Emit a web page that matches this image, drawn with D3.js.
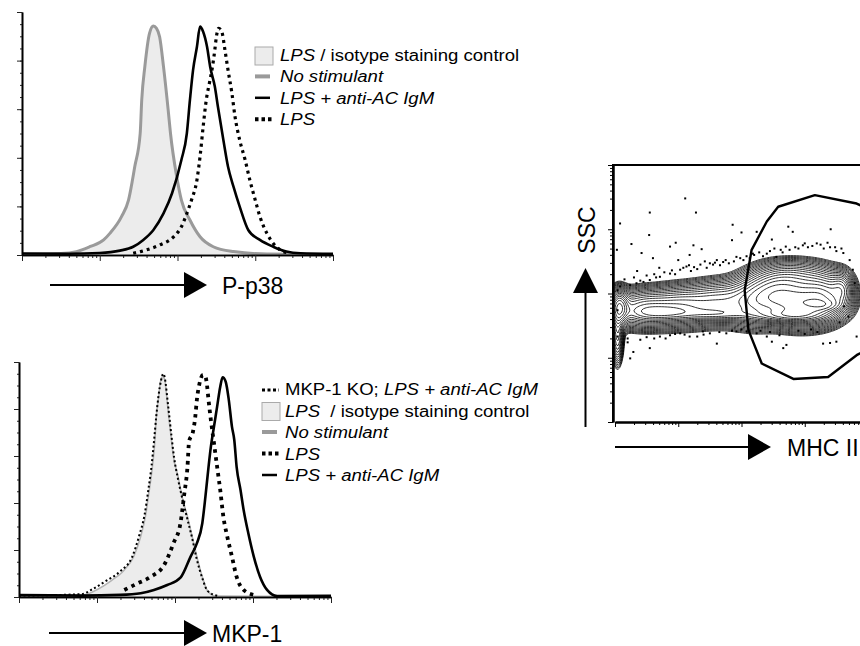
<!DOCTYPE html>
<html><head><meta charset="utf-8">
<script src="https://cdn.jsdelivr.net/npm/d3@7"></script>
<style>body{margin:0;background:#fff} svg{display:block} text{font-family:Arial,"Liberation Sans",Helvetica,sans-serif;fill:#000}</style>
</head><body><svg id="c" width="860" height="646"></svg>
<script>
// ---------- DATA (log10 fluorescence intensity, % of max) ----------
const pp38_control = [[0,0.3],[0.5,0.6],[0.70,1.4],[0.87,3.4],[1.05,6.2],[1.13,8.9],[1.28,15.8],[1.37,22.6],[1.45,36.3],[1.52,50],[1.54,63.8],[1.58,77.5],[1.64,91.2],[1.69,94.2],[1.73,93.3],[1.77,89.8],[1.82,77.5],[1.88,59.7],[1.91,50],[1.99,32.2],[2.05,22.6],[2.16,14.4],[2.29,7.5],[2.46,3.4],[2.72,1.4],[3.15,0.4],[4,0.2]];
const pp38_lpsIgM = [[0,0.6],[0.6,0.5],[1.0,0.8],[1.26,1.8],[1.43,3.4],[1.56,6.2],[1.69,10.3],[1.82,17.1],[1.93,25.4],[2.05,39.1],[2.12,50],[2.16,63.8],[2.20,76.1],[2.25,85.7],[2.29,94.0],[2.33,91.9],[2.38,85.7],[2.42,77.5],[2.48,69.3],[2.52,61.0],[2.59,47.3],[2.65,36.3],[2.72,28.1],[2.80,19.9],[2.91,10.3],[3.06,6.2],[3.23,3.4],[3.40,1.4],[3.58,0.7],[4,0.5]];
const pp38_lps = [[1.43,0.7],[1.60,2.1],[1.77,4.1],[1.95,7.5],[2.05,11.6],[2.12,17.1],[2.18,22.6],[2.25,30.9],[2.29,40.5],[2.33,52.8],[2.37,63.8],[2.41,70.7],[2.45,77.5],[2.48,84.4],[2.50,89.8],[2.53,93.3],[2.57,91.9],[2.61,84.4],[2.65,76.1],[2.70,66.5],[2.74,56.9],[2.80,47.3],[2.87,39.1],[2.93,30.9],[3.00,22.6],[3.06,15.8],[3.15,8.9],[3.23,4.8],[3.32,2.1],[3.45,0.7]];

const mkp1_control = [[0,0.5],[0.5,0.6],[0.83,0.9],[1.01,3.3],[1.18,6.9],[1.35,11.5],[1.47,17.2],[1.56,25.7],[1.62,34.2],[1.67,45.5],[1.71,55.4],[1.74,65.4],[1.76,76.7],[1.79,85.2],[1.81,90.9],[1.84,93.8],[1.87,92.3],[1.89,86.7],[1.92,76.7],[1.95,68.2],[1.98,59.7],[2.04,51.2],[2.09,42.7],[2.16,34.2],[2.22,25.7],[2.28,17.2],[2.35,8.6],[2.41,3.0],[2.52,0.4],[4,0.2]];
const mkp1_koLpsIgM = [[0,0.6],[0.8,1.2],[0.95,3.5],[1.1,6.5],[1.3,11],[1.45,17],[1.54,26],[1.61,35],[1.66,46],[1.70,56],[1.73,66],[1.76,77],[1.79,86],[1.82,92],[1.85,95],[1.88,91],[1.90,85],[1.93,76],[1.96,67],[1.99,59],[2.04,50],[2.10,41],[2.16,33],[2.22,25],[2.28,16],[2.35,8],[2.42,2.5],[2.55,0.5]];
const mkp1_lps = [[1.35,3.0],[1.52,5.8],[1.69,8.6],[1.86,13.6],[1.98,22.8],[2.07,31.4],[2.12,44.1],[2.16,55.4],[2.18,66.1],[2.23,70.3],[2.26,76.7],[2.28,83.8],[2.31,90.2],[2.36,94.5],[2.39,93.8],[2.41,90.2],[2.43,83.8],[2.46,75.3],[2.50,65.4],[2.54,55.4],[2.58,45.5],[2.62,34.2],[2.67,25.7],[2.73,17.2],[2.79,8.6],[2.88,3.0],[3.01,0.9]];
const mkp1_lpsIgM = [[0,0.8],[0.8,0.6],[1.3,0.9],[1.56,1.6],[1.73,3.0],[1.90,5.1],[2.07,8.2],[2.20,17.2],[2.28,22.8],[2.35,31.4],[2.39,42.7],[2.43,55.4],[2.46,64.0],[2.50,72.5],[2.54,81.0],[2.58,89.5],[2.61,93.5],[2.65,91.6],[2.69,83.8],[2.73,72.5],[2.76,66.8],[2.79,55.4],[2.84,45.5],[2.88,37.0],[2.94,27.1],[3.01,17.2],[3.09,8.6],[3.18,3.0],[3.31,0.4],[4,0.5]];

// MHC II vs SSC: density components [log10 MHC II, log10 SSC, sd MHC, sd SSC, weight]
const sscComponents = [
  [0.07,1.78,0.08,0.15,1.0],
  [0.04,1.38,0.05,0.25,0.4],
  [0.45,1.76,0.30,0.16,0.6],
  [0.75,1.70,0.30,0.07,0.35],
  [1.05,1.80,0.30,0.17,0.5],
  [1.65,1.86,0.30,0.18,0.45],
  [1.60,1.68,0.35,0.06,0.3],
  [2.20,1.86,0.25,0.20,0.5],
  [2.55,1.98,0.28,0.20,0.8],
  [2.95,1.82,0.28,0.18,1.0],
  [2.75,1.66,0.32,0.06,0.55],
  [3.30,1.94,0.22,0.19,0.8],
  [3.35,1.82,0.16,0.06,0.4],
  [3.58,2.06,0.10,0.15,0.45],
  [2.85,2.22,0.36,0.16,0.38]
];
// outlier events [log10 MHC II, log10 SSC]
const sscOutliers = [[1.11,3.48],[1.28,3.26],[0.55,3.26],[0.08,3.09],[0.54,2.91],[0.26,2.77],[0.42,2.63],[0.60,2.55],[0.87,2.73],[0.96,2.79],[1.24,2.75],[1.37,2.69],[1.86,3.07],[2.00,2.95],[2.24,2.96],[2.48,2.84],[2.74,3.04],[2.81,2.96],[3.41,3.00],[1.85,2.83],[1.61,2.52],[1.71,2.49],[1.50,2.47],[1.13,2.42],[1.03,2.37],[0.87,2.31],[0.71,2.26],[0.55,2.21],[0.45,2.18],[0.34,2.16],[0.24,2.13],[0.08,2.11],[1.92,2.57],[2.03,2.52],[2.13,2.55],[2.34,2.58],[2.55,2.57],[2.76,2.68],[2.97,2.75],[3.19,2.78],[3.40,2.72],[3.61,2.63],[3.71,2.52],[3.76,2.37],[3.79,2.16],[3.69,1.64],[3.82,1.33],[3.50,1.25],[3.40,1.23],[3.29,1.22],[2.71,1.20],[2.66,1.15],[2.48,1.25],[2.40,1.33],[2.24,1.38],[2.08,1.41],[1.92,1.41],[1.76,1.38],[1.61,1.22],[1.39,1.41],[1.18,1.33],[1.03,1.38],[0.87,1.35],[0.71,1.33],[0.55,1.15],[0.29,1.09],[0.13,1.22],[0.24,0.99],[0.04,1.33],[0.04,1.74],[0.04,2.05],[0.03,2.68],
  [1.30,2.38],[1.45,2.40],[1.55,2.45],[1.80,2.47],[1.20,2.35],[0.95,2.30],[0.65,2.25],[0.40,2.20],[2.20,2.60],[2.40,2.62],[2.65,2.64],[2.90,2.70],[3.05,2.72],[3.30,2.70],[3.50,2.66],[1.40,1.36],[1.65,1.40],[0.95,1.37],[2.60,1.35],[3.00,1.37],[3.20,1.40],[0.20,1.30],[0.50,1.32],
  [0.15,2.22],[0.30,2.25],[0.50,2.28],[0.62,2.30],[0.78,2.33],[0.90,2.36],[1.08,2.40],[1.17,2.44],[1.25,2.41],[1.35,2.45],[1.42,2.50],[1.58,2.48],[1.66,2.44],[1.75,2.52],[1.88,2.50],[1.98,2.55],[2.08,2.58],[2.18,2.62],[2.28,2.64],[2.45,2.66],[2.52,2.70],[2.62,2.68],[2.70,2.73],[2.85,2.72],[3.00,2.78],[3.12,2.74],[3.25,2.76],[3.36,2.79],[3.48,2.72],[3.58,2.70],[0.70,2.40],[1.00,2.52],[1.18,2.60],[0.35,2.35],[0.20,1.24],[0.40,1.28],[0.62,1.30],[0.80,1.30],[1.10,1.36],[1.30,1.33],[1.50,1.38],[1.85,1.42],[2.00,1.44],[2.30,1.42],[2.45,1.40],[2.90,1.42],[3.10,1.44],[3.55,1.55],[3.62,1.80]];
// gate polygon [log10 MHC II, log10 SSC]
const gatePoly = [[2.40,3.12],[2.58,3.35],[3.16,3.53],[3.82,3.40],[4.2,3.22],[4.27,1.28],[3.82,1.04],[3.37,0.70],[2.82,0.67],[2.32,0.91],[2.11,1.43],[2.05,2.05],[2.16,2.68]];

const legendTop = [
  {sym:"box",  parts:[["LPS",1],[" / isotype staining control",0]]},
  {sym:"grey", parts:[["No stimulant",1]]},
  {sym:"solid",parts:[["LPS + anti-AC IgM",1]]},
  {sym:"dots", parts:[["LPS",1]]}
];
const legendBottom = [
  {sym:"small",parts:[["MKP-1 KO; ",0],["LPS + anti-AC IgM",1]]},
  {sym:"box",  parts:[["LPS",1],["  / isotype staining control",0]]},
  {sym:"grey", parts:[["No stimulant",1]]},
  {sym:"dots", parts:[["LPS",1]]},
  {sym:"solid",parts:[["LPS + anti-AC IgM",1]]}
];

// ---------- DRAWING ----------
const svg = d3.select("#c");
const GREYFILL = "#ececec", GREYLINE = "#9a9a9a";

function logTicks(){
  const major = [1,10,100,1000,10000], minor = [];
  for (let d=0; d<4; d++) for (let k=2;k<=9;k++) minor.push(k*Math.pow(10,d));
  return {major, minor};
}

function histPanel(o){
  const g = svg.append("g");
  const x = d3.scaleLog().domain([1,1e4]).range([o.x0,o.x1]);
  const y = d3.scaleLinear().domain([0,100]).range([o.yb,o.yt]);
  const line = d3.line().x(d=>x(Math.pow(10,d[0]))).y(d=>y(d[1])).curve(d3.curveMonotoneX);
  const area = d3.area().x(d=>x(Math.pow(10,d[0]))).y0(y(0)).y1(d=>y(d[1])).curve(d3.curveMonotoneX);
  g.append("path").datum(o.control).attr("d",area).attr("fill",GREYFILL);
  g.append("path").datum(o.control).attr("d",line).attr("fill","none")
    .attr("stroke",o.greyColor).attr("stroke-width",o.greyWidth);
  o.lines.forEach(l=>{
    g.append("path").datum(l.data).attr("d",line).attr("fill","none")
      .attr("stroke","#000").attr("stroke-width",l.w).attr("stroke-dasharray",l.dash||null)
      .attr("stroke-linejoin","round");
  });
  const t = logTicks();
  const ax = g.append("g").attr("transform",`translate(0,${o.yb})`);
  ax.append("g").call(d3.axisBottom(x).tickValues(t.minor).tickSize(3).tickSizeOuter(0).tickFormat(""));
  ax.append("g").call(d3.axisBottom(x).tickValues(t.major).tickSize(6).tickSizeOuter(0).tickFormat(""));
  const ay = g.append("g").attr("transform",`translate(${o.x0},0)`);
  ay.append("g").call(d3.axisLeft(y).tickValues(d3.range(0,101,5)).tickSize(2).tickSizeOuter(0).tickFormat(""));
  ay.append("g").call(d3.axisLeft(y).tickValues(d3.range(0,101,20)).tickSize(5).tickSizeOuter(0).tickFormat(""));
  g.selectAll(".domain").attr("stroke","#000").attr("stroke-width",1.6);
  g.selectAll(".tick line").attr("stroke","#222").attr("stroke-width",1);
}

histPanel({x0:22,x1:333,yb:255,yt:12,control:pp38_control,greyColor:GREYLINE,greyWidth:3,
  lines:[{data:pp38_lps,w:3.2,dash:"3,4"},{data:pp38_lpsIgM,w:2.6}]});
histPanel({x0:19,x1:331,yb:597,yt:362,control:mkp1_control,greyColor:"#b4b4b4",greyWidth:1.6,
  lines:[{data:mkp1_koLpsIgM,w:2,dash:"2,2.5"},{data:mkp1_lps,w:3.8,dash:"3.5,4.5"},{data:mkp1_lpsIgM,w:2.6}]});

// legends
function legend(items, sx, tx, y0, step){
  items.forEach((it,i)=>{
    const by = y0 + i*step, my = by - 6;
    const g = svg.append("g");
    if (it.sym==="box") g.append("rect").attr("x",sx).attr("y",by-14).attr("width",18).attr("height",18)
        .attr("fill",GREYFILL).attr("stroke","#aaa").attr("stroke-width",1);
    else if (it.sym==="grey") g.append("line").attr("x1",sx).attr("x2",sx+15).attr("y1",my).attr("y2",my)
        .attr("stroke",GREYLINE).attr("stroke-width",4);
    else if (it.sym==="solid") g.append("line").attr("x1",sx).attr("x2",sx+15).attr("y1",my).attr("y2",my)
        .attr("stroke","#000").attr("stroke-width",2.5);
    else if (it.sym==="dots") g.append("line").attr("x1",sx).attr("x2",sx+17).attr("y1",my).attr("y2",my)
        .attr("stroke","#000").attr("stroke-width",4).attr("stroke-dasharray","3.5,3");
    else if (it.sym==="small") g.append("line").attr("x1",sx).attr("x2",sx+17).attr("y1",my+1).attr("y2",my+1)
        .attr("stroke","#000").attr("stroke-width",3).attr("stroke-dasharray","3,2.5");
    const t = g.append("text").attr("transform",`translate(${tx},${by}) scale(1.16,1)`).attr("font-size",16);
    it.parts.forEach(p=>t.append("tspan").text(p[0]).attr("font-style",p[1]?"italic":"normal")
      .attr("xml:space","preserve").style("white-space","pre"));
  });
}
legend(legendTop,255,280,61,21.4);
legend(legendBottom,262,285,395,21.5);

// arrows + axis titles
function hArrow(x1,x2,y){
  svg.append("line").attr("x1",x1).attr("x2",x2-20).attr("y1",y).attr("y2",y).attr("stroke","#000").attr("stroke-width",2);
  svg.append("path").attr("d",`M${x2-23},${y-13}L${x2},${y}L${x2-23},${y+13}Z`).attr("fill","#000");
}
hArrow(50,207,285);
svg.append("text").attr("x",222).attr("y",294).attr("font-size",23).text("P-p38");
hArrow(49,207,633);
svg.append("text").attr("x",212).attr("y",642).attr("font-size",23).text("MKP-1");
hArrow(615,771,447);
svg.append("text").attr("x",787).attr("y",456).attr("font-size",23).text("MHC II");
// vertical arrow
svg.append("line").attr("x1",585.5).attr("x2",585.5).attr("y1",427).attr("y2",290).attr("stroke","#000").attr("stroke-width",2);
svg.append("path").attr("d","M573,293L585.5,268L598,293Z").attr("fill","#000");
svg.append("text").attr("transform","translate(595,230) rotate(-90)").attr("text-anchor","middle").attr("font-size",23).text("SSC");

// ---------- contour panel ----------
const mx = d3.scaleLog().domain([1,1e4]).range([615,868]);
const my = d3.scaleLog().domain([1,1e4]).range([422,165]);
svg.append("defs").append("clipPath").attr("id","clipC").append("rect")
  .attr("x",614).attr("y",165).attr("width",250).attr("height",257);
const cg = svg.append("g").attr("clip-path","url(#clipC)");
const step = 1.5, gx0 = 612, gy0 = 165;
const nx = Math.ceil((872-gx0)/step), ny = Math.ceil((423-gy0)/step);
const vals = new Array(nx*ny);
for (let j=0;j<ny;j++) for (let i=0;i<nx;i++){
  const m = Math.log10(mx.invert(gx0+i*step)), s = Math.log10(my.invert(gy0+j*step));
  let v = 0;
  sscComponents.forEach(c=>{ v += c[4]*Math.exp(-((m-c[0])**2/(2*c[2]*c[2]) + (s-c[1])**2/(2*c[3]*c[3]))); });
  vals[j*nx+i] = v;
}
const vmax = d3.max(vals);
const levels = d3.range(20).map(i => vmax*0.02*Math.pow(0.93/0.02, i/19));
const contours = d3.contours().size([nx,ny]).thresholds(levels)(vals);
const cpath = d3.geoPath(d3.geoIdentity().scale(step).translate([gx0-step/2,gy0-step/2]));
cg.selectAll("path.ct").data(contours).join("path").attr("class","ct").attr("d",cpath)
  .attr("fill","none").attr("stroke","#000").attr("stroke-width",0.8);
cg.selectAll("rect.ev").data(sscOutliers).join("rect").attr("class","ev")
  .attr("x",d=>mx(Math.pow(10,d[0]))-1).attr("y",d=>my(Math.pow(10,d[1]))-1).attr("width",2).attr("height",2).attr("fill","#000");
const gateLine = d3.line().x(d=>mx(Math.pow(10,d[0]))).y(d=>my(Math.pow(10,d[1]))).curve(d3.curveLinearClosed);
svg.append("path").datum(gatePoly).attr("d",gateLine).attr("fill","none").attr("stroke","#000").attr("stroke-width",2.4).attr("stroke-linejoin","round");
// frame + axes
svg.append("path").attr("d","M613,422L613,165L870,165").attr("fill","none").attr("stroke","#000").attr("stroke-width",2);
const lt = logTicks();
const cax = svg.append("g").attr("transform","translate(0,422)");
cax.append("g").call(d3.axisBottom(mx).tickValues(lt.minor).tickSize(3).tickSizeOuter(0).tickFormat(""));
cax.append("g").call(d3.axisBottom(mx).tickValues(lt.major).tickSize(5).tickSizeOuter(0).tickFormat(""));
const cay = svg.append("g").attr("transform","translate(613,0)");
cay.append("g").call(d3.axisLeft(my).tickValues(lt.minor).tickSize(3).tickSizeOuter(0).tickFormat(""));
cay.append("g").call(d3.axisLeft(my).tickValues(lt.major).tickSize(5).tickSizeOuter(0).tickFormat(""));
[cax,cay].forEach(a=>{a.selectAll(".domain").attr("stroke","#000").attr("stroke-width",2);a.selectAll(".tick line").attr("stroke","#000");});
</script></body></html>
